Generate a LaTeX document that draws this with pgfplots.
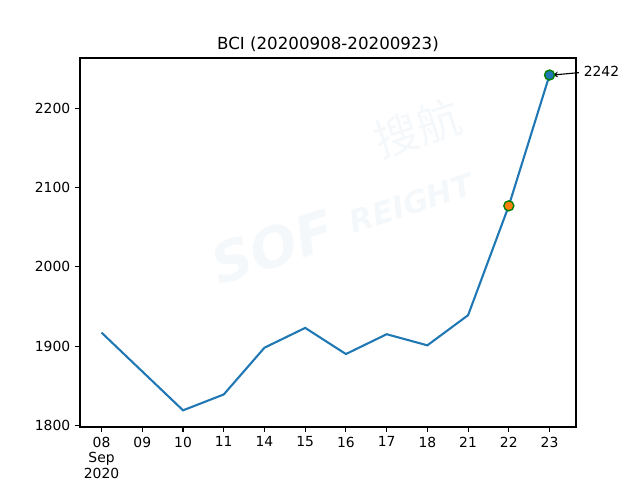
\documentclass[border=0pt]{standalone}
\usepackage{fontspec}
\setmainfont{DejaVu Sans}
\newfontfamily\cjk{Noto Sans CJK SC}
\usepackage{pgfplots}
\pgfplotsset{compat=1.18}
\definecolor{mplblue}{HTML}{1F77B4}
\definecolor{mplorange}{HTML}{FF7F0E}
\definecolor{mplgreen}{HTML}{008000}
\definecolor{wm}{HTML}{F5F8FB}

\begin{document}
\begin{tikzpicture}
\begin{axis}[
  name=ax,
  scale only axis,
  width=357.1pt, height=265.7pt,
  xmin=-0.53, xmax=11.65,
  ymin=1797.9, ymax=2263.5,
  xtick={0,...,11},
  xticklabels={{08\\Sep\\2020},09,10,11,14,15,16,17,18,21,22,23},
  xticklabel style={align=center, anchor=north, font=\fontsize{10}{11.3}\selectfont},
  ytick={1800,1900,2000,2100,2200},
  tick align=outside,
  tick pos=left,
  major tick length=3.5pt,
  every tick/.style={line width=0.8pt, black},
  axis line style={line width=0.8pt},
  tick label style={font=\fontsize{10}{11.3}\selectfont},
  /pgf/number format/assume math mode=true,
  /pgf/number format/1000 sep={},
  title={BCI (20200908-20200923)},
  title style={font=\fontsize{12}{14}\selectfont, yshift=-5pt},
  clip=false,
]
% faint watermark
\node[text=wm, rotate=18, font=\fontsize{32}{32}\selectfont\cjk] at (axis cs:7.75,2175) {搜航};
\node[text=wm, rotate=18, font=\fontsize{22}{22}\selectfont\bfseries\itshape] at (axis cs:7.6,2080) {REIGHT};
\node[text=wm, rotate=18, font=\fontsize{40}{40}\selectfont\bfseries\itshape] at (axis cs:4.2,2025) {SOF};

\addplot[mplblue, line width=1.5pt] coordinates {
  (0,1917) (1,1868) (2,1819) (3,1839) (4,1898) (5,1923)
  (6,1890) (7,1915) (8,1901) (9,1939) (10,2077) (11,2242)
};
\addplot[only marks, mark=*, mark size=3.6pt,
  mark options={fill=mplorange, draw=mplgreen, line width=1pt}]
  coordinates {(10,2077)};
\addplot[only marks, mark=*, mark size=3.6pt,
  mark options={fill=mplblue, draw=mplgreen, line width=1pt}]
  coordinates {(11,2242)};
\draw[->, >=stealth, line width=0.8pt] (axis cs:11.72,2245) -- (axis cs:11.07,2242);
\node[anchor=west, font=\fontsize{10}{12}\selectfont, inner sep=1pt] at (axis cs:11.8,2247) {2242};
\end{axis}
\pgfresetboundingbox
\path ([xshift=-57.6pt,yshift=-38.16pt]ax.south west) rectangle ([xshift=46.08pt,yshift=41.76pt]ax.north east);
\end{tikzpicture}
\end{document}
